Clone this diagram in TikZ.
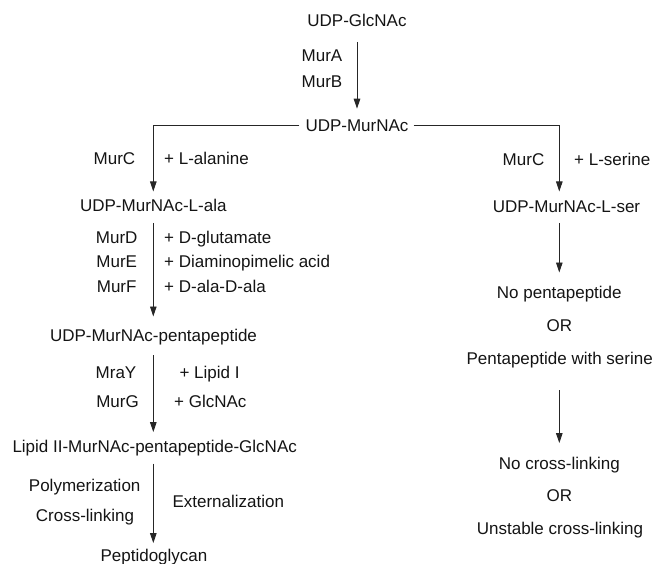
\documentclass[tikz,border=0pt]{standalone}
\usepackage{fontspec}
\setmainfont{Liberation Sans}
\usetikzlibrary{arrows.meta}
\begin{document}
\begin{tikzpicture}[x=1pt,y=-1pt,
  txt/.style={inner sep=0pt,text height=12.2pt,text depth=0pt,font=\fontsize{17}{20}\selectfont,text=black!92},
  lbl/.style={txt},
  lblr/.style={txt,anchor=west},
  conn/.style={draw=black!85,line width=0.9pt},
  arr/.style={conn,-{Triangle[length=10pt,width=6.5pt]}}]
\useasboundingbox (0,0) rectangle (653,564);
% main nodes
\node[txt] (glc)   at (357,20.7) {UDP-GlcNAc};
\node[txt] (mur)   at (357,125) {UDP-MurNAc};
\node[txt] (lala)  at (153.3,205) {UDP-MurNAc-L-ala};
\node[txt] (penta) at (153.5,335) {UDP-MurNAc-pentapeptide};
\node[txt] (lip)   at (154.7,446.7) {Lipid II-MurNAc-pentapeptide-GlcNAc};
\node[txt] (pg)    at (154,555.7) {Peptidoglycan};
\node[txt] (lser)  at (566.5,206) {UDP-MurNAc-L-ser};
\node[txt] (nop)   at (559.3,292.3) {No pentapeptide};
\node[txt] (or1)   at (559.3,325.7) {OR};
\node[txt] (pws)   at (559.7,358.3) {Pentapeptide with serine};
\node[txt] (noc)   at (559.3,463.3) {No cross-linking};
\node[txt] (or2)   at (559.3,495.7) {OR};
\node[txt] (usc)   at (560,528.3) {Unstable cross-linking};
\coordinate (rc) at (559.3,0);
% labels
\node[lbl] (murA) at (322,55) {MurA};
\node[lbl] (murB) at (322,81.7) {MurB};
\node[lbl] (murC1) at (114.5,158) {MurC};
\node[lblr] (ala) at (164,158) {+ L-alanine};
\node[lbl] (murC2) at (523.5,159) {MurC};
\node[lblr] (ser) at (574,159) {+ L-serine};
\node[lbl] (murD) at (116.7,237.3) {MurD};
\node[lbl] (murE) at (116.7,261.7) {MurE};
\node[lbl] (murF) at (116.7,286) {MurF};
\node[lblr] (dglu) at (164,237.3) {+ D-glutamate};
\node[lblr] (dap) at (164,261.7) {+ Diaminopimelic acid};
\node[lblr] (dada) at (164,286) {+ D-ala-D-ala};
\node[lbl] (mray) at (116,372.7) {MraY};
\node[lblr] (lipI) at (179.3,372.7) {+ Lipid I};
\node[lbl] (murG) at (117.5,401.7) {MurG};
\node[lblr] (glcnac) at (174,401.7) {+ GlcNAc};
\node[lbl] (poly) at (84.7,485.7) {Polymerization};
\node[lbl] (cross) at (85,515.7) {Cross-linking};
\node[lblr] (ext) at (172.3,501.7) {Externalization};
% connectors
\draw[arr,shorten <=15pt,shorten >=10pt] (glc.south) -- (mur.north);
\draw[arr,shorten <=6pt,shorten >=7.2pt] (mur.west) -| (lala.north);
\draw[arr,shorten <=5pt,shorten >=8.2pt] (mur.east) -| (rc |- lser.north);
\draw[arr,shorten <=11.6pt,shorten >=12.2pt] (lala.south) -- (lala.south |- penta.north);
\draw[arr,shorten <=14pt,shorten >=8.3pt] (lala.south |- penta.south) -- (lala.south |- lip.north);
\draw[arr,shorten <=10.5pt,shorten >=6.3pt] (lala.south |- lip.south) -- (lala.south |- pg.north);
\draw[arr,shorten <=10.6pt,shorten >=13.5pt] (rc |- lser.south) -- (rc |- nop.north);
\draw[arr,shorten <=25.6pt,shorten >=13.9pt] (rc |- pws.south) -- (rc |- noc.north);
\end{tikzpicture}
\end{document}
